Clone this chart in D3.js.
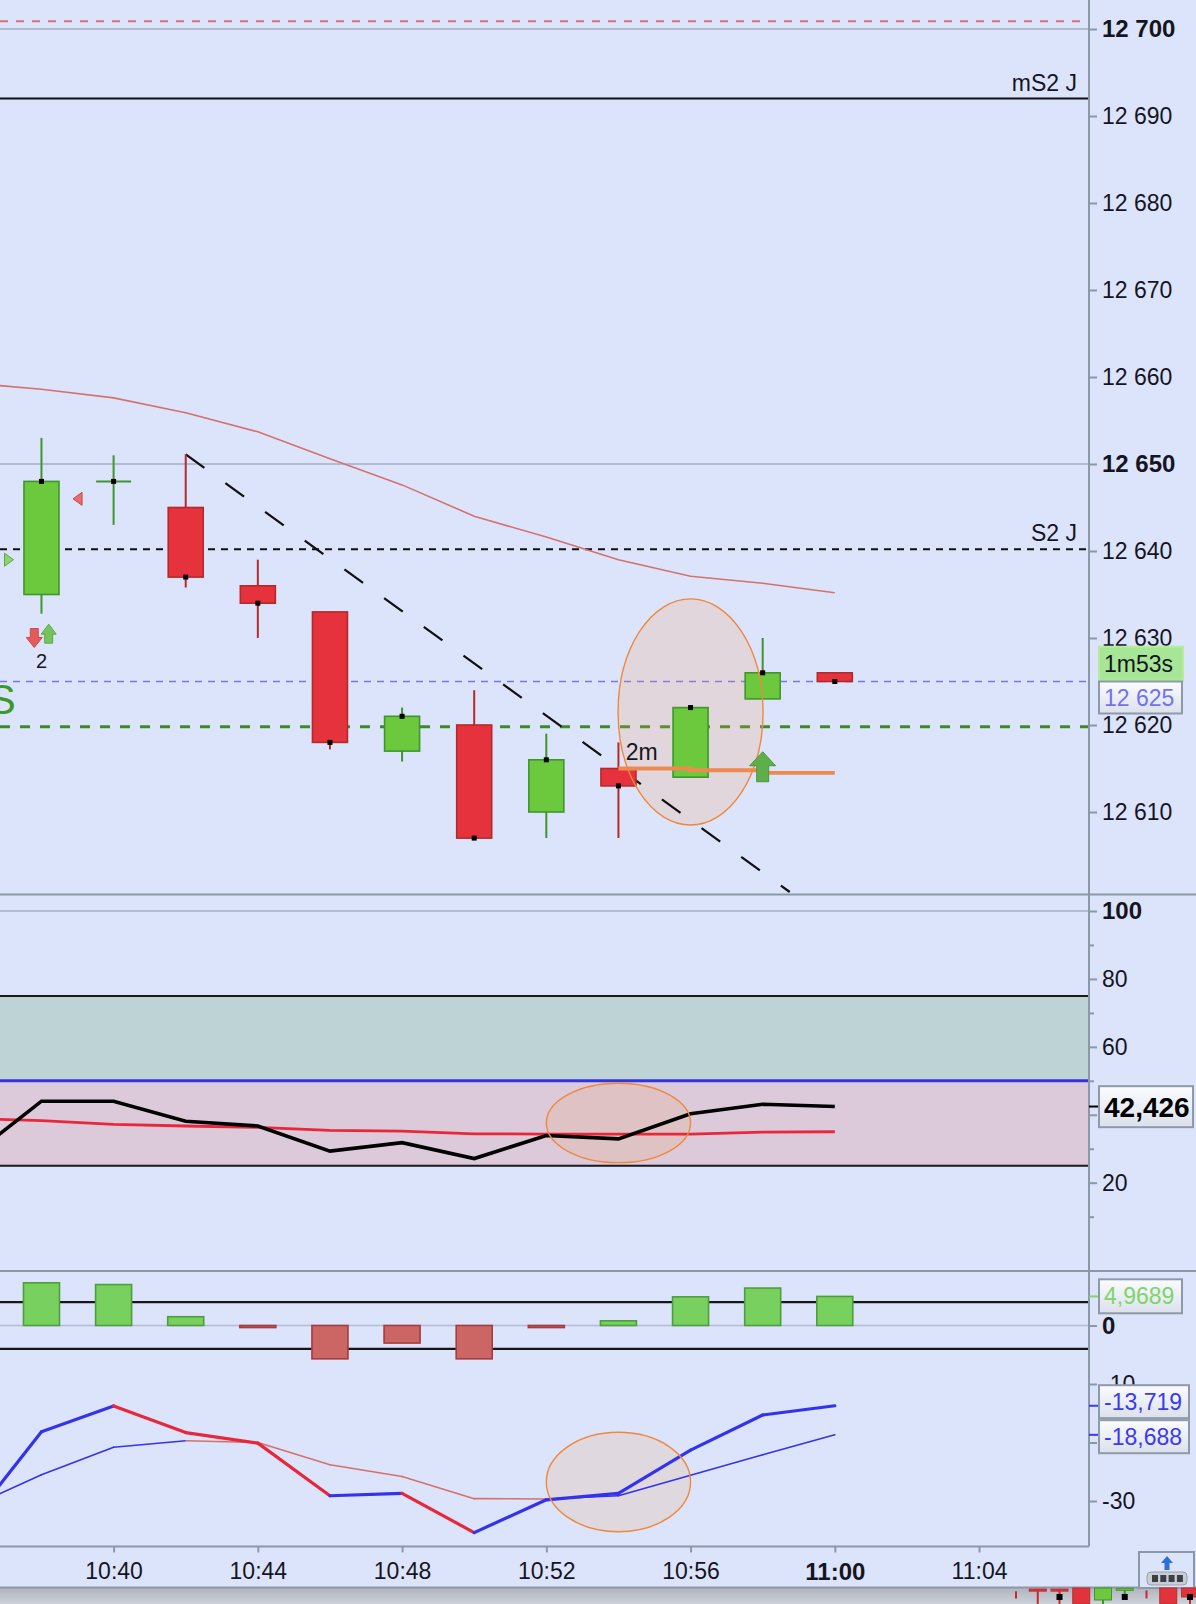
<!DOCTYPE html>
<html><head><meta charset="utf-8">
<script src="https://cdn.jsdelivr.net/npm/d3@7"></script>
<style>
html,body{margin:0;padding:0;background:#dce4fb;}
svg{display:block;font-family:"Liberation Sans",Arial,sans-serif;}
</style></head><body>
<svg id="c" width="1196" height="1604"></svg>
<script>
// ---------------- DATA ----------------
const candleTimes = ["10:38","10:40","10:42","10:44","10:46","10:48","10:50","10:52","10:54","10:56","10:58","11:00"];
const opens  = [12635, 12648, 12645, 12636, 12633, 12617, 12620, 12610, 12615, 12614, 12623, 12626];
const highs  = [12653, 12651, 12651.1, 12639, 12633, 12622, 12624, 12619, 12618, 12622, 12630, 12626];
const lows   = [12632.8, 12643, 12635.8, 12630, 12617.2, 12615.8, 12607, 12607, 12607, 12614, 12623, 12625];
const closes = [12648, 12648, 12637, 12634, 12618, 12621, 12607, 12616, 12613, 12622, 12626, 12625];

const seriesTimes = ["10:36","10:38","10:40","10:42","10:44","10:46","10:48","10:50","10:52","10:54","10:56","10:58","11:00"];
const maValues    = [12659.3, 12658.6, 12657.6, 12655.9, 12653.7, 12650.6, 12647.6, 12644.0, 12641.6, 12639.0, 12637.1, 12636.3, 12635.2];
const rsiValues   = [27.3, 44.0, 44.0, 38.1, 36.7, 29.3, 31.8, 27.1, 33.9, 32.9, 40.3, 43.1, 42.426];
const rsiSignal   = [38.9, 38.25, 37.2, 36.7, 36.3, 35.4, 35.2, 34.4, 34.3, 34.3, 34.3, 34.9, 35.0];
const oscValues   = [-33.9, -18.15, -13.76, -18.3, -20.1, -29.1, -28.7, -35.4, -29.8, -28.7, -21.3, -15.3, -13.719];
const oscSignal   = [-31.1, -25.5, -20.8, -19.7, -20.0, -23.8, -25.8, -29.6, -29.65, -29.1, -25.6, -22.1, -18.688];
const histValues  = [7.3, 7.0, 1.5, -0.35, -5.7, -3.0, -5.7, -0.35, 0.8, 4.9, 6.4, 4.9689];

const priceTicks = [12610, 12620, 12630, 12640, 12650, 12660, 12670, 12680, 12690, 12700];
const boldPriceTicks = [12650, 12700];
const rsiTicks = [100, 80, 60, 40, 20];
const rsiHiddenLabels = [40];
const rsiMinorTicks = [90, 70, 50, 30, 10];
const oscTicks = [0, -10, -20, -30];
const oscHiddenLabels = [-20];
const timeTicks = ["10:36","10:40","10:44","10:48","10:52","10:56","11:00","11:04"];
const boldTimeTicks = ["11:00"];

// levels in price panel
const levelNames  = ["top", "mS2 J", "S2 J", "last", "green"];
const levelValues = [12700.9, 12692, 12640.2, 12625, 12619.8];
const levelLabels = ["", "mS2 J", "S2 J", "", ""];

const trendTimes  = ["10:42", "10:58.75"];
const trendPrices = [12651.1, 12600.8];

const orangeTimes  = ["10:54", "10:56", "10:58", "11:00"];
const orangePrices = [12615, 12614.8, 12614.5, 12614.5];

const markerTypes  = ["triRight", "triLeft", "arrowDown", "arrowUp", "bigArrowUp"];
const markerTimes  = ["10:37.1", "10:39", "10:37.8", "10:38.2", "10:58"];
const markerPrices = [12639, 12646, 12630, 12630.5, 12615.2];

const noteTexts  = ["2", "2m", "S"];
const noteTimes  = ["10:38", "10:54.2", "10:36.9"];
const notePrices = [12627.4, 12616.9, 12622.9];

const rsiLevels = [75, 50, 25];
const histLevels = [4, -4];

// ellipses: centre time/value, half width (min) / half height (units)
const ellMain = {t:"10:56", v:12621.5, dt:2.01, dv:13.0};
const ellRsi  = {t:"10:54", v:37.6, dt:2.0, dv:11.7};
const ellOsc  = {t:"10:54", v:-26.75, dt:2.0, dv:8.5};

const lastValues = {price:12625, timer:"1m53s", rsi:42.426, hist:4.9689, osc:-13.719, oscSig:-18.688};

// mini candles strip at bottom
const miniO = [8, 9.3, 9.3, 10, 2.5, 9.3, 8.5, 10, 10];
const miniC = [8, 8.7, 8.7, 0, 10, 9.8, 8.5, 0, 4.4];
const miniH = [8, 9.3, 9.3, 10, 10, 9.8, 8.5, 10, 10];
const miniL = [3.5, 0, 0, 0, 0, 3, 3.5, 0, 0];

// ---------------- SETUP ----------------
const svg = d3.select("#c");
const W = 1196, H = 1604, plotR = 1089;
const P = {mainTop:0, mainBot:894.5, rsiBot:1271, oscBot:1546.5, axBot:1587.5};
const toMin = s => { const p = s.split(":"); return +p[0]*60 + parseFloat(p[1]); };
const loc = d3.formatLocale({decimal:",", thousands:" ", grouping:[3], currency:["",""], minus:"-"});
const fmtPrice = loc.format(",d");

const x  = d3.scaleLinear().domain([toMin("10:40"), toMin("11:00")]).range([113.6, 834.8]);
const yP = d3.scaleLinear().domain([12610, 12700]).range([812, 29]);
const yR = d3.scaleLinear().domain([20, 100]).range([1182.7, 911]);
const yO = d3.scaleLinear().domain([-30, 0]).range([1501, 1325.5]);
const pxPerMin = x(1) - x(0);

const C = {bg:"#dce4fb", sep:"#8b98a7", grid:"#b3bbd2", txt:"#15151f",
  gFill:"#6cc83c", gLine:"#3f962c", rFill:"#e5323c", rLine:"#b42a2a",
  blue:"#3333ee", red:"#e8283a", salmon:"#d6706c"};

const defs = svg.append("defs");
[["clipMain",P.mainTop,P.mainBot],["clipRsi",P.mainBot,P.rsiBot],["clipOsc",P.rsiBot,P.oscBot]].forEach(([id,a,b])=>{
  defs.append("clipPath").attr("id",id).append("rect").attr("x",0).attr("y",a).attr("width",plotR).attr("height",b-a);
});
const grad = defs.append("linearGradient").attr("id","boxg").attr("x1",0).attr("y1",0).attr("x2",0).attr("y2",1);
grad.append("stop").attr("offset","0%").attr("stop-color","#fbfcff");
grad.append("stop").attr("offset","100%").attr("stop-color","#dbe0ec");
const gradS = defs.append("linearGradient").attr("id","stripg").attr("x1",0).attr("y1",0).attr("x2",0).attr("y2",1);
gradS.append("stop").attr("offset","0%").attr("stop-color","#aeb3bd");
gradS.append("stop").attr("offset","100%").attr("stop-color","#cdd1d9");

svg.append("rect").attr("width",W).attr("height",H).attr("fill",C.bg);

// ---------------- MAIN PANEL ----------------
const gm = svg.append("g").attr("clip-path","url(#clipMain)");
const line = (xs, ys, yScale) => d3.line().x((d,i)=>x(toMin(xs[i]))).y((d,i)=>yScale(ys[i]));

// grid
boldPriceTicks.forEach(v => gm.append("line").attr("x1",0).attr("x2",plotR).attr("y1",yP(v)).attr("y2",yP(v))
  .attr("stroke",C.grid).attr("stroke-width",2));

// levels
const lvlStyle = {
  "top":   {stroke:"#d77373", w:2, dash:"8,8"},
  "mS2 J": {stroke:"#111", w:2, dash:null},
  "S2 J":  {stroke:"#111", w:2, dash:"7,6"},
  "last":  {stroke:"#7474f4", w:1.6, dash:"7,6"},
  "green": {stroke:"#3a8a2a", w:3.2, dash:"10,10"}
};
levelNames.forEach((n,i)=>{
  const s = lvlStyle[n];
  gm.append("line").attr("x1",0).attr("x2",plotR).attr("y1",yP(levelValues[i])).attr("y2",yP(levelValues[i]))
    .attr("stroke",s.stroke).attr("stroke-width",s.w).attr("stroke-dasharray",s.dash);
  if (levelLabels[i]) gm.append("text").attr("x",plotR-12).attr("y",yP(levelValues[i])-8)
    .attr("text-anchor","end").attr("font-size",23).attr("fill",C.txt).text(levelLabels[i]);
});

// moving average
gm.append("path").datum(maValues).attr("d", line(seriesTimes, maValues, yP))
  .attr("fill","none").attr("stroke",C.salmon).attr("stroke-width",1.6);

// ellipse fill (behind candles)
const ellipse = (g, e, yS) => g.append("ellipse")
  .attr("cx", x(toMin(e.t))).attr("cy", yS(e.v))
  .attr("rx", e.dt*pxPerMin).attr("ry", Math.abs(yS(e.v+e.dv)-yS(e.v)));
ellipse(gm, ellMain, yP).attr("fill","#f0a060").attr("fill-opacity",0.2).attr("stroke","none");

// trend line
gm.append("path").datum(trendPrices).attr("d", line(trendTimes, trendPrices, yP))
  .attr("fill","none").attr("stroke","#111").attr("stroke-width",2.3).attr("stroke-dasharray","23,26");

// candles
const cw = 35;
candleTimes.forEach((t,i)=>{
  const cx = x(toMin(t)), o=opens[i], c=closes[i], up = c>=o;
  const lc = up? C.gLine : C.rLine;
  gm.append("line").attr("x1",cx).attr("x2",cx).attr("y1",yP(highs[i])).attr("y2",yP(lows[i]))
    .attr("stroke",lc).attr("stroke-width",2);
  if (o===c) {
    gm.append("line").attr("x1",cx-cw/2).attr("x2",cx+cw/2).attr("y1",yP(c)).attr("y2",yP(c))
      .attr("stroke",lc).attr("stroke-width",2);
  } else {
    gm.append("rect").attr("x",cx-cw/2).attr("width",cw).attr("y",yP(Math.max(o,c)))
      .attr("height",Math.abs(yP(o)-yP(c))).attr("fill",up?C.gFill:C.rFill).attr("stroke",lc).attr("stroke-width",1.6);
  }
  gm.append("rect").attr("x",cx-2.5).attr("y",yP(c)-2.5).attr("width",5).attr("height",5).attr("fill","#000");
});

// orange line
gm.append("path").datum(orangePrices).attr("d", line(orangeTimes, orangePrices, yP).curve(d3.curveStepAfter))
  .attr("fill","none").attr("stroke","#ef8a4e").attr("stroke-width",3.8);

// ellipse outline
ellipse(gm, ellMain, yP).attr("fill","none").attr("stroke","#f0883c").attr("stroke-width",1.4);

// markers
const arrowPath = (w,h,hh,sw) => `M0,${-h/2}L${w/2},${-h/2+hh}L${sw},${-h/2+hh}L${sw},${h/2}L${-sw},${h/2}L${-sw},${-h/2+hh}L${-w/2},${-h/2+hh}Z`;
const mkStyle = {
  triRight:  {d:"M-4.5,-6.5L4.5,0L-4.5,6.5Z", fill:"#8ed36c", stroke:"#5aa840", rot:0},
  triLeft:   {d:"M4.5,-6.5L-4.5,0L4.5,6.5Z", fill:"#ea6d6d", stroke:"#cc4444", rot:0},
  arrowDown: {d:arrowPath(16,19,10,4), fill:"#e35c5c", stroke:"#d04a4a", rot:180},
  arrowUp:   {d:arrowPath(15,19,10,4), fill:"#76c45c", stroke:"#5aa846", rot:0},
  bigArrowUp:{d:arrowPath(26,30,14,6), fill:"#5eae4a", stroke:"#4a9a3a", rot:0}
};
markerTypes.forEach((m,i)=>{
  const s = mkStyle[m];
  gm.append("path").attr("d",s.d)
    .attr("transform",`translate(${x(toMin(markerTimes[i]))},${yP(markerPrices[i])}) rotate(${s.rot})`)
    .attr("fill",s.fill).attr("stroke",s.stroke).attr("stroke-width",1);
});
const noteStyle = {"2":{size:20, fill:C.txt, anchor:"middle"}, "2m":{size:23, fill:C.txt, anchor:"start"}, "S":{size:42, fill:"#3a9a28", anchor:"middle"}};
noteTexts.forEach((n,i)=>{
  const s = noteStyle[n];
  gm.append("text").attr("x",x(toMin(noteTimes[i]))).attr("y",yP(notePrices[i])).attr("dy","0.35em")
    .attr("text-anchor",s.anchor).attr("font-size",s.size).attr("fill",s.fill).text(n);
});

// ---------------- RSI PANEL ----------------
const gr = svg.append("g").attr("clip-path","url(#clipRsi)");
gr.append("line").attr("x1",0).attr("x2",plotR).attr("y1",yR(100)).attr("y2",yR(100)).attr("stroke",C.grid).attr("stroke-width",2);
gr.append("rect").attr("x",0).attr("width",plotR).attr("y",yR(rsiLevels[0])).attr("height",yR(rsiLevels[1])-yR(rsiLevels[0])).attr("fill","#bed3d6");
gr.append("rect").attr("x",0).attr("width",plotR).attr("y",yR(rsiLevels[1])).attr("height",yR(rsiLevels[2])-yR(rsiLevels[1])).attr("fill","#dccadb");
rsiLevels.forEach((v,i)=> gr.append("line").attr("x1",0).attr("x2",plotR).attr("y1",yR(v)).attr("y2",yR(v))
  .attr("stroke", i===1 ? "#3434dc" : "#1a1a1a").attr("stroke-width", i===1 ? 3 : 2));
ellipse(gr, ellRsi, yR).attr("fill","#f0a060").attr("fill-opacity",0.18).attr("stroke","none");
gr.append("path").attr("d", line(seriesTimes, rsiSignal, yR)(rsiSignal)).attr("fill","none").attr("stroke",C.red).attr("stroke-width",2.8);
gr.append("path").attr("d", line(seriesTimes, rsiValues, yR)(rsiValues)).attr("fill","none").attr("stroke","#000").attr("stroke-width",3.6);
ellipse(gr, ellRsi, yR).attr("fill","none").attr("stroke","#f0883c").attr("stroke-width",1.4);

// ---------------- OSC PANEL ----------------
const go = svg.append("g").attr("clip-path","url(#clipOsc)");
go.append("line").attr("x1",0).attr("x2",plotR).attr("y1",yO(0)).attr("y2",yO(0)).attr("stroke",C.grid).attr("stroke-width",1.6);
histLevels.forEach(v => go.append("line").attr("x1",0).attr("x2",plotR).attr("y1",yO(v)).attr("y2",yO(v)).attr("stroke","#161616").attr("stroke-width",2.2));
candleTimes.forEach((t,i)=>{
  const v = histValues[i], cx = x(toMin(t)), pos = v>=0;
  const y0 = yO(Math.max(v,0)), h = Math.max(1.5, Math.abs(yO(v)-yO(0)));
  go.append("rect").attr("x",cx-18).attr("width",36).attr("y",y0).attr("height",h)
    .attr("fill", pos ? "#78d05e" : "#cc6664").attr("stroke", pos ? "#4f9e3c" : "#a63c3c").attr("stroke-width",1.6);
});
ellipse(go, ellOsc, yO).attr("fill","#f0a060").attr("fill-opacity",0.18).attr("stroke","none");
const segs = (vals, g, wUp, colUp, colDown) => {
  for (let i=0;i<vals.length-1;i++){
    const a = [x(toMin(seriesTimes[i])), yO(vals[i])], b = [x(toMin(seriesTimes[i+1])), yO(vals[i+1])];
    g.append("path").attr("d", d3.line()([a,b])).attr("fill","none")
      .attr("stroke", vals[i+1]>=vals[i] ? colUp : colDown).attr("stroke-width", wUp).attr("stroke-linecap","round");
  }
};
segs(oscSignal, go, 1.6, C.blue, C.salmon);
segs(oscValues, go, 3.2, C.blue, C.red);
ellipse(go, ellOsc, yO).attr("fill","none").attr("stroke","#f0883c").attr("stroke-width",1.4);

// ---------------- FRAME ----------------
svg.append("line").attr("x1",plotR).attr("x2",plotR).attr("y1",0).attr("y2",P.oscBot).attr("stroke",C.sep).attr("stroke-width",2);
[[P.mainBot,W],[P.rsiBot,W],[P.oscBot,plotR]].forEach(([y,x2])=>svg.append("line").attr("x1",0).attr("x2",x2)
  .attr("y1",y).attr("y2",y).attr("stroke",C.sep).attr("stroke-width",2));
svg.append("rect").attr("x",0).attr("y",P.axBot).attr("width",W).attr("height",H-P.axBot).attr("fill","url(#stripg)");
svg.append("line").attr("x1",0).attr("x2",W).attr("y1",P.axBot).attr("y2",P.axBot).attr("stroke",C.sep).attr("stroke-width",2);

// ---------------- AXES ----------------
function styleAxis(g, size){
  g.attr("font-family",null).attr("font-size",null);
  g.select(".domain").remove();
  g.selectAll(".tick line").attr("stroke",C.sep).attr("stroke-width",2);
  g.selectAll(".tick text").attr("fill",C.txt).attr("font-size",size);
}
const gPA = svg.append("g").attr("transform",`translate(${plotR},0)`)
  .call(d3.axisRight(yP).tickValues(priceTicks).tickSize(8).tickPadding(5).tickFormat(fmtPrice));
styleAxis(gPA, 23);
gPA.selectAll(".tick text").filter(d=>boldPriceTicks.includes(d)).attr("font-weight","bold").attr("font-size",24);

const gRA = svg.append("g").attr("transform",`translate(${plotR},0)`)
  .call(d3.axisRight(yR).tickValues(rsiTicks).tickSize(8).tickPadding(5));
styleAxis(gRA, 23);
gRA.selectAll(".tick text").filter(d=>d===100).attr("font-weight","bold").attr("font-size",24);
gRA.selectAll(".tick text").filter(d=>rsiHiddenLabels.includes(d)).remove(); // covered by value box in the reference
const gRm = svg.append("g").attr("transform",`translate(${plotR},0)`)
  .call(d3.axisRight(yR).tickValues(rsiMinorTicks).tickSize(5).tickFormat(""));
styleAxis(gRm, 23);

const gOA = svg.append("g").attr("transform",`translate(${plotR},0)`)
  .call(d3.axisRight(yO).tickValues(oscTicks).tickSize(8).tickPadding(5).tickFormat(loc.format("d")));
styleAxis(gOA, 23);
gOA.selectAll(".tick text").filter(d=>d===0).attr("font-weight","bold").attr("font-size",24);
gOA.selectAll(".tick text").filter(d=>oscHiddenLabels.includes(d)).remove(); // covered by value boxes in the reference

const gTA = svg.append("g").attr("transform",`translate(0,${P.oscBot})`)
  .call(d3.axisBottom(x).tickValues(timeTicks.map(toMin)).tickSize(6).tickPadding(10)
    .tickFormat(v => { const h=Math.floor(v/60), m=Math.round(v-h*60); return h+":"+String(m).padStart(2,"0"); }));
styleAxis(gTA, 23);
gTA.selectAll(".tick text").filter(d=>boldTimeTicks.map(toMin).includes(d)).attr("font-weight","bold").attr("font-size",24);

// ---------------- VALUE BOXES ----------------
function valueBox(yc, w, h, text, color, opts={}){
  const g = svg.append("g");
  if (opts.tick) g.append("line").attr("x1",plotR).attr("x2",plotR+10).attr("y1",opts.tick).attr("y2",opts.tick)
    .attr("stroke",opts.tickColor||color).attr("stroke-width",2);
  g.append("rect").attr("x",plotR+10).attr("y",yc-h/2).attr("width",w).attr("height",h)
    .attr("fill",opts.fill||"url(#boxg)").attr("stroke",opts.stroke||"#8d9aa8").attr("stroke-width",2);
  g.append("text").attr("x",plotR+15).attr("y",yc).attr("dy","0.35em").attr("fill",color)
    .attr("font-size",opts.size||23).attr("font-weight",opts.bold?"bold":"normal").text(text);
}
valueBox(663.7, 84, 34, lastValues.timer, "#15151f", {fill:"#a6e696", stroke:"#b7ec9f"});
valueBox(697.5, 83, 32, fmtPrice(lastValues.price), "#7272f6", {});
valueBox(1106.7, 94, 41, loc.format(".3f")(lastValues.rsi), "#000", {bold:true, size:28, tick:yR(lastValues.rsi), tickColor:"#000"});
valueBox(1296.3, 83, 34, loc.format(".4f")(lastValues.hist), "#7fd46a", {tick:yO(lastValues.hist)});
valueBox(1401.7, 90, 33, loc.format(".3f")(lastValues.osc), "#3a3af2", {tick:yO(lastValues.osc)});
valueBox(1436.7, 90, 33, loc.format(".3f")(lastValues.oscSig), "#3a3af2", {tick:yO(lastValues.oscSig)});

// ---------------- BOTTOM BUTTON ----------------
const btn = svg.append("g");
btn.append("rect").attr("x",1139).attr("y",1552).attr("width",55).attr("height",36).attr("fill",C.bg).attr("stroke",C.sep).attr("stroke-width",2);
btn.append("path").attr("d",arrowPath(12,14,7,2.5)).attr("transform","translate(1167,1563)").attr("fill","#2f6fdc");
btn.append("rect").attr("x",1147).attr("y",1572).attr("width",40).attr("height",13).attr("rx",4).attr("fill","#c9cdd6").attr("stroke","#9aa0ab");
d3.range(4).forEach(i=>btn.append("rect").attr("x",1152+i*8.3).attr("y",1575).attr("width",6).attr("height",7).attr("fill","#3d3f48"));

// ---------------- MINI STRIP ----------------
const mx = d3.scaleLinear().domain([0, 8]).range([1016, 1190]);
const my = d3.scaleLinear().domain([0, 10]).range([1604, 1588]);
miniO.forEach((o,i)=>{
  const c = miniC[i], up = c>o, col = up? "#6cc83c" : "#e0333c", lc = up? "#3f962c" : "#c42a2a";
  svg.append("line").attr("x1",mx(i)).attr("x2",mx(i)).attr("y1",my(miniH[i])).attr("y2",my(miniL[i])).attr("stroke",lc).attr("stroke-width",2);
  if (o!==c) svg.append("rect").attr("x",mx(i)-8.5).attr("width",17).attr("y",my(Math.max(o,c))).attr("height",Math.max(2,Math.abs(my(o)-my(c))))
    .attr("fill",col).attr("stroke",lc).attr("stroke-width",1);
  if (i===2 || i===5 || i===8) svg.append("rect").attr("x",mx(i)-3).attr("y",my(4.4)-3).attr("width",6).attr("height",6).attr("fill","#000");
});
</script>
</body></html>
